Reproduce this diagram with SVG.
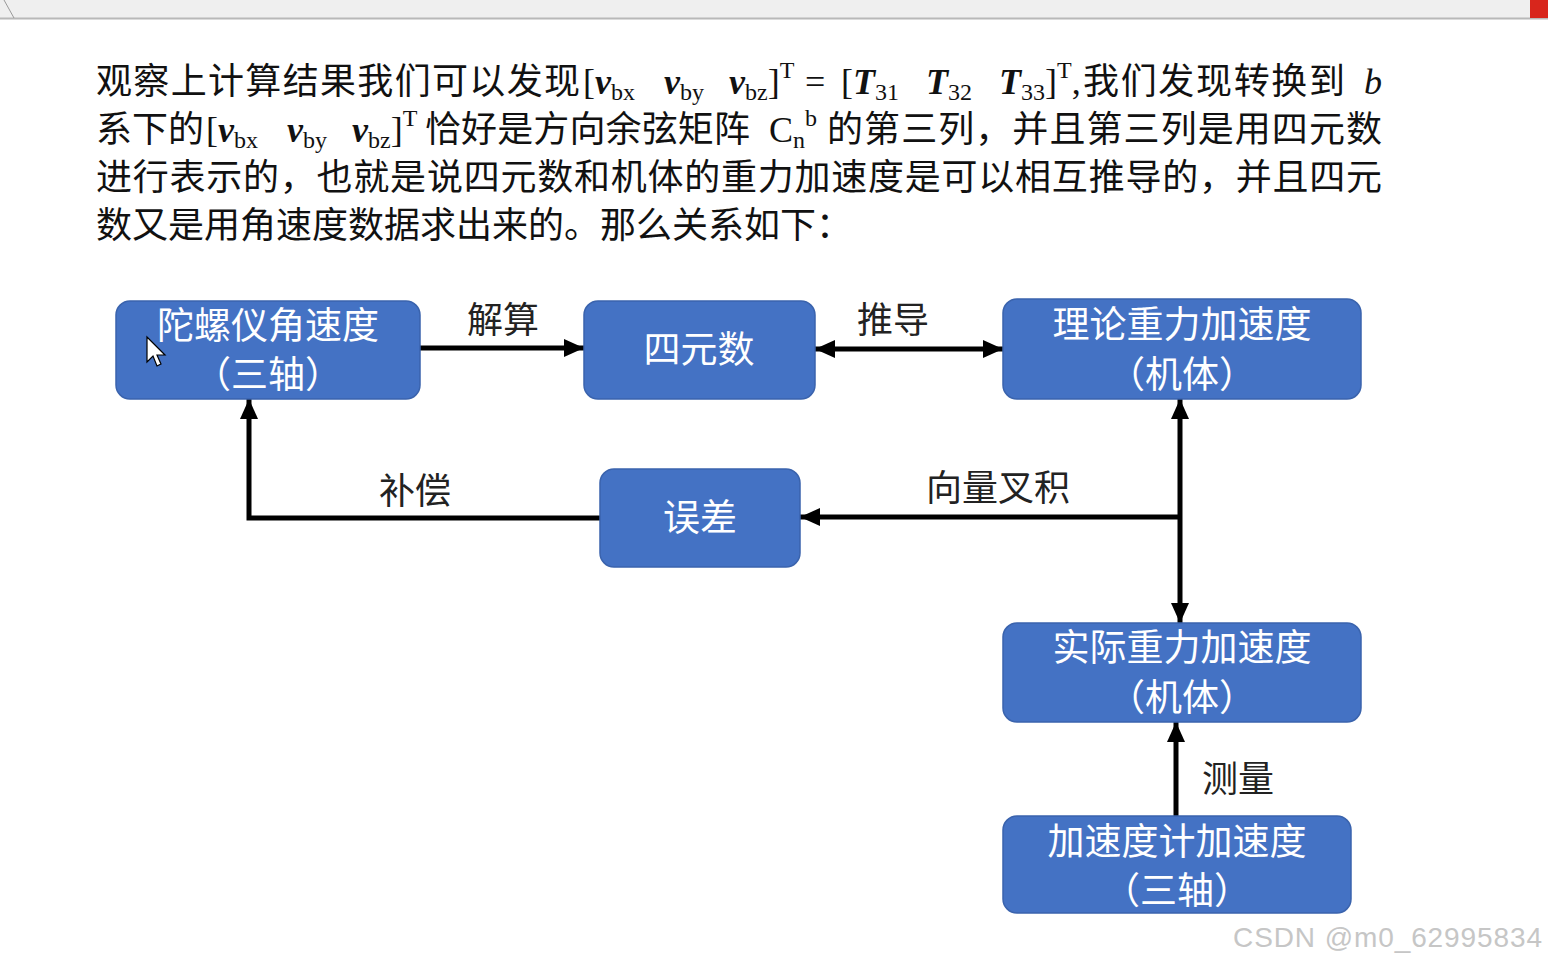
<svg xmlns="http://www.w3.org/2000/svg" width="1548" height="964" viewBox="0 0 1548 964">
<style>
.p{font-family:"Liberation Serif","Noto Sans CJK SC",serif;font-size:36px;fill:#111}
.m{font-family:"Liberation Serif",serif;font-size:36px;fill:#111}
.bi{font-weight:bold;font-style:italic}
.s{font-size:24px;font-weight:normal;font-style:normal}
.node rect{fill:#4472C4;stroke:#3a63ad;stroke-width:1.5}
.nt{font-family:"Noto Sans CJK SC","Noto Sans",sans-serif;font-size:37px;fill:#fff;text-anchor:middle}
.lb{font-family:"Noto Sans CJK SC","Noto Sans",sans-serif;font-size:36px;fill:#222;text-anchor:middle}
.c{fill:none;stroke:#000;stroke-width:5}
</style>
<defs>
<marker id="ah" markerUnits="userSpaceOnUse" markerWidth="20" markerHeight="18" refX="20" refY="9" orient="auto-start-reverse">
<path d="M0,0 L20,9 L0,18 z" fill="#000"/>
</marker>
</defs>
<rect width="1548" height="964" fill="#fff"/>
<!-- top bar -->
<rect x="0" y="0" width="1548" height="18" fill="#efefef"/>
<line x1="0" y1="18.5" x2="1548" y2="18.5" stroke="#b8b8b8" stroke-width="2"/>
<line x1="4" y1="0" x2="14" y2="18" stroke="#999" stroke-width="1"/>
<rect x="1530" y="0" width="18" height="18" fill="#d8261c"/>
<!-- paragraph -->
<g id="paragraph">
<text class="p" x="96" y="94" textLength="484" lengthAdjust="spacing">观察上计算结果我们可以发现</text>
<text class="m" x="583" y="94">[<tspan class="bi">v</tspan><tspan class="s" dy="6">bx</tspan></text>
<text class="m" x="664" y="94"><tspan class="bi">v</tspan><tspan class="s" dy="6">by</tspan></text>
<text class="m" x="729" y="94"><tspan class="bi">v</tspan><tspan class="s" dy="6">bz</tspan><tspan dy="-6">]</tspan><tspan class="s" dy="-16">T</tspan></text>
<text class="m" x="805" y="94">=</text>
<text class="m" x="841" y="94">[<tspan class="bi">T</tspan><tspan class="s" dy="6">31</tspan></text>
<text class="m" x="926" y="94"><tspan class="bi">T</tspan><tspan class="s" dy="6">32</tspan></text>
<text class="m" x="999" y="94"><tspan class="bi">T</tspan><tspan class="s" dy="6">33</tspan><tspan dy="-6">]</tspan><tspan class="s" dy="-16">T</tspan><tspan dy="16">,</tspan></text>
<text class="p" x="1083" y="94" textLength="262" lengthAdjust="spacing">我们发现转换到</text>
<text class="m" x="1364" y="94" font-style="italic">b</text>

<text class="p" x="96" y="142" textLength="108" lengthAdjust="spacing">系下的</text>
<text class="m" x="206" y="142">[<tspan class="bi">v</tspan><tspan class="s" dy="6">bx</tspan></text>
<text class="m" x="287" y="142"><tspan class="bi">v</tspan><tspan class="s" dy="6">by</tspan></text>
<text class="m" x="352" y="142"><tspan class="bi">v</tspan><tspan class="s" dy="6">bz</tspan><tspan dy="-6">]</tspan><tspan class="s" dy="-16">T</tspan></text>
<text class="p" x="425" y="142" textLength="325" lengthAdjust="spacing">恰好是方向余弦矩阵</text>
<text class="m" x="769" y="142">C<tspan class="s" dy="6">n</tspan><tspan class="s" dy="-22">b</tspan></text>
<text class="p" x="827" y="142" textLength="555" lengthAdjust="spacing">的第三列，并且第三列是用四元数</text>

<text class="p" x="96" y="190" textLength="1286" lengthAdjust="spacing">进行表示的，也就是说四元数和机体的重力加速度是可以相互推导的，并且四元</text>
<text class="p" x="96" y="238">数又是用角速度数据求出来的。那么关系如下：</text>
</g>
<!-- connectors -->
<g id="connectors">
<path class="c" d="M420,348 L584,348" marker-end="url(#ah)"/>
<path class="c" d="M815,349 L1003,349" marker-start="url(#ah)" marker-end="url(#ah)"/>
<path class="c" d="M1180,399 L1180,623" marker-start="url(#ah)" marker-end="url(#ah)"/>
<path class="c" d="M1180,517 L800,517" marker-end="url(#ah)"/>
<path class="c" d="M600,518 L249,518 L249,399" marker-end="url(#ah)"/>
<path class="c" d="M1176,816 L1176,722" marker-end="url(#ah)"/>
<text class="lb" x="503" y="333">解算</text>
<text class="lb" x="893" y="333">推导</text>
<text class="lb" x="998" y="501">向量叉积</text>
<text class="lb" x="415" y="504">补偿</text>
<text class="lb" x="1238" y="792">测量</text>
</g>
<!-- nodes -->
<g id="n1" class="node"><rect x="116" y="301" width="304" height="98" rx="14"/>
<text class="nt" x="268" y="339">陀螺仪角速度</text><text class="nt" x="268" y="388">（三轴）</text></g>
<g id="n2" class="node"><rect x="584" y="301" width="231" height="98" rx="14"/>
<text class="nt" x="699" y="363">四元数</text></g>
<g id="n3" class="node"><rect x="1003" y="299" width="358" height="100" rx="14"/>
<text class="nt" x="1182" y="338">理论重力加速度</text><text class="nt" x="1182" y="388">（机体）</text></g>
<g id="n4" class="node"><rect x="600" y="469" width="200" height="98" rx="14"/>
<text class="nt" x="700" y="531">误差</text></g>
<g id="n5" class="node"><rect x="1003" y="623" width="358" height="99" rx="14"/>
<text class="nt" x="1182" y="661">实际重力加速度</text><text class="nt" x="1182" y="711">（机体）</text></g>
<g id="n6" class="node"><rect x="1003" y="816" width="348" height="97" rx="14"/>
<text class="nt" x="1177" y="855">加速度计加速度</text><text class="nt" x="1177" y="904">（三轴）</text></g>
<!-- cursor -->
<path d="M147,337 L147,362 L153,356 L157,366 L161,364 L157,355 L165,355 Z" fill="#fff" stroke="#000" stroke-width="1.2"/>
<!-- watermark -->
<text x="1233" y="947" font-family="Liberation Sans,Arial,sans-serif" font-size="28" fill="#c6c6c6" textLength="309" lengthAdjust="spacing">CSDN @m0_62995834</text>
</svg>
